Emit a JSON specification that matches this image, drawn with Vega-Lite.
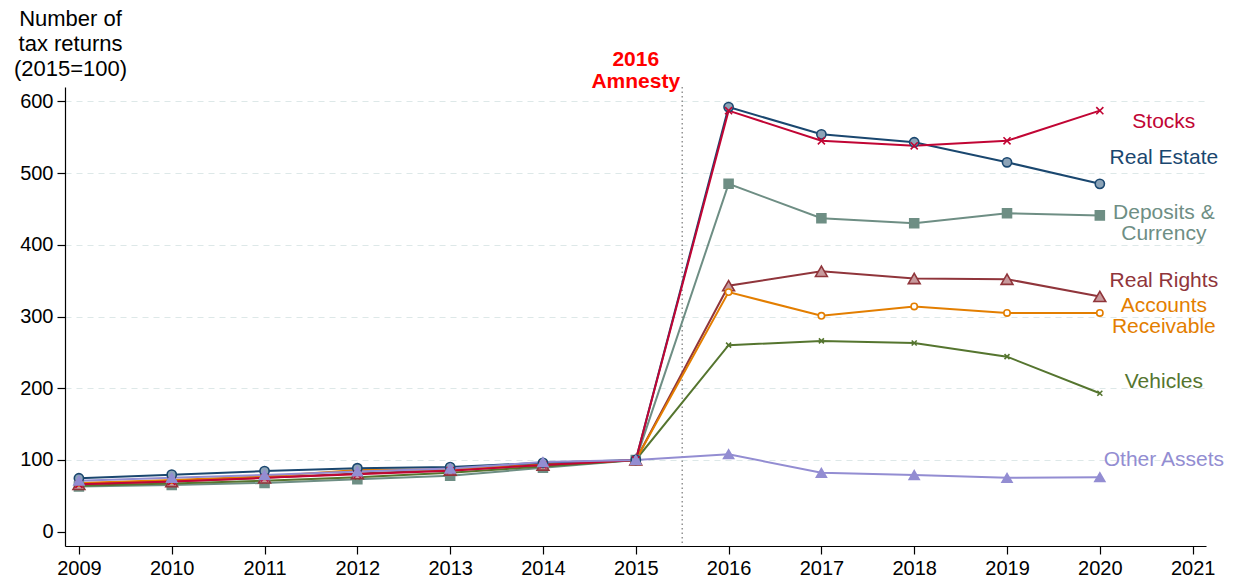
{
  "$schema": "https://vega.github.io/schema/vega-lite/v6.json",
  "autosize": {"type": "none"},
  "padding": {"left": 65, "top": 87, "right": 30, "bottom": 34},
  "width": 1141,
  "height": 459,
  "background": "white",
  "config": {
    "view": {"stroke": null},
    "font": "Liberation Sans",
    "axis": {"labelFont": "Liberation Sans", "titleFont": "Liberation Sans"}
  },
  "datasets": {
    "series": [
      {"series": "Deposits & Currency", "year": 2009, "value": 63},
      {"series": "Deposits & Currency", "year": 2010, "value": 65},
      {"series": "Deposits & Currency", "year": 2011, "value": 68},
      {"series": "Deposits & Currency", "year": 2012, "value": 73},
      {"series": "Deposits & Currency", "year": 2013, "value": 78},
      {"series": "Deposits & Currency", "year": 2014, "value": 89},
      {"series": "Deposits & Currency", "year": 2015, "value": 100},
      {"series": "Deposits & Currency", "year": 2016, "value": 485},
      {"series": "Deposits & Currency", "year": 2017, "value": 437},
      {"series": "Deposits & Currency", "year": 2018, "value": 430},
      {"series": "Deposits & Currency", "year": 2019, "value": 444},
      {"series": "Deposits & Currency", "year": 2020, "value": 441},
      {"series": "Vehicles", "year": 2009, "value": 64},
      {"series": "Vehicles", "year": 2010, "value": 67},
      {"series": "Vehicles", "year": 2011, "value": 71},
      {"series": "Vehicles", "year": 2012, "value": 76},
      {"series": "Vehicles", "year": 2013, "value": 82},
      {"series": "Vehicles", "year": 2014, "value": 91},
      {"series": "Vehicles", "year": 2015, "value": 100},
      {"series": "Vehicles", "year": 2016, "value": 260},
      {"series": "Vehicles", "year": 2017, "value": 266},
      {"series": "Vehicles", "year": 2018, "value": 263},
      {"series": "Vehicles", "year": 2019, "value": 244},
      {"series": "Vehicles", "year": 2020, "value": 193},
      {"series": "Real Rights", "year": 2009, "value": 66},
      {"series": "Real Rights", "year": 2010, "value": 70},
      {"series": "Real Rights", "year": 2011, "value": 75},
      {"series": "Real Rights", "year": 2012, "value": 81},
      {"series": "Real Rights", "year": 2013, "value": 86},
      {"series": "Real Rights", "year": 2014, "value": 93},
      {"series": "Real Rights", "year": 2015, "value": 100},
      {"series": "Real Rights", "year": 2016, "value": 343},
      {"series": "Real Rights", "year": 2017, "value": 363},
      {"series": "Real Rights", "year": 2018, "value": 353},
      {"series": "Real Rights", "year": 2019, "value": 352},
      {"series": "Real Rights", "year": 2020, "value": 328},
      {"series": "Accounts Receivable", "year": 2009, "value": 68},
      {"series": "Accounts Receivable", "year": 2010, "value": 72},
      {"series": "Accounts Receivable", "year": 2011, "value": 77},
      {"series": "Accounts Receivable", "year": 2012, "value": 86},
      {"series": "Accounts Receivable", "year": 2013, "value": 87},
      {"series": "Accounts Receivable", "year": 2014, "value": 94},
      {"series": "Accounts Receivable", "year": 2015, "value": 100},
      {"series": "Accounts Receivable", "year": 2016, "value": 334},
      {"series": "Accounts Receivable", "year": 2017, "value": 301},
      {"series": "Accounts Receivable", "year": 2018, "value": 314},
      {"series": "Accounts Receivable", "year": 2019, "value": 305},
      {"series": "Accounts Receivable", "year": 2020, "value": 305},
      {"series": "Real Estate", "year": 2009, "value": 74.5},
      {"series": "Real Estate", "year": 2010, "value": 79.5},
      {"series": "Real Estate", "year": 2011, "value": 84.5},
      {"series": "Real Estate", "year": 2012, "value": 88.5},
      {"series": "Real Estate", "year": 2013, "value": 90},
      {"series": "Real Estate", "year": 2014, "value": 96},
      {"series": "Real Estate", "year": 2015, "value": 100},
      {"series": "Real Estate", "year": 2016, "value": 592},
      {"series": "Real Estate", "year": 2017, "value": 554},
      {"series": "Real Estate", "year": 2018, "value": 543},
      {"series": "Real Estate", "year": 2019, "value": 515},
      {"series": "Real Estate", "year": 2020, "value": 485},
      {"series": "Stocks", "year": 2009, "value": 66},
      {"series": "Stocks", "year": 2010, "value": 70},
      {"series": "Stocks", "year": 2011, "value": 75},
      {"series": "Stocks", "year": 2012, "value": 80},
      {"series": "Stocks", "year": 2013, "value": 85},
      {"series": "Stocks", "year": 2014, "value": 93},
      {"series": "Stocks", "year": 2015, "value": 100},
      {"series": "Stocks", "year": 2016, "value": 587},
      {"series": "Stocks", "year": 2017, "value": 545},
      {"series": "Stocks", "year": 2018, "value": 538},
      {"series": "Stocks", "year": 2019, "value": 545},
      {"series": "Stocks", "year": 2020, "value": 587},
      {"series": "Other Assets", "year": 2009, "value": 71},
      {"series": "Other Assets", "year": 2010, "value": 75},
      {"series": "Other Assets", "year": 2011, "value": 79},
      {"series": "Other Assets", "year": 2012, "value": 84},
      {"series": "Other Assets", "year": 2013, "value": 88},
      {"series": "Other Assets", "year": 2014, "value": 97},
      {"series": "Other Assets", "year": 2015, "value": 100},
      {"series": "Other Assets", "year": 2016, "value": 108},
      {"series": "Other Assets", "year": 2017, "value": 82},
      {"series": "Other Assets", "year": 2018, "value": 79},
      {"series": "Other Assets", "year": 2019, "value": 75},
      {"series": "Other Assets", "year": 2020, "value": 76}
    ],
    "labels": [
      {"series": "Stocks", "label": "Stocks", "year": 2020.69, "value": 571},
      {"series": "Real Estate", "label": "Real Estate", "year": 2020.69, "value": 521},
      {"series": "Deposits & Currency", "label": "Deposits &\nCurrency", "year": 2020.69, "value": 444},
      {"series": "Real Rights", "label": "Real Rights", "year": 2020.69, "value": 350},
      {"series": "Accounts Receivable", "label": "Accounts\nReceivable", "year": 2020.69, "value": 314},
      {"series": "Vehicles", "label": "Vehicles", "year": 2020.69, "value": 209},
      {"series": "Other Assets", "label": "Other Assets", "year": 2020.69, "value": 100}
    ],
    "event": [
      {"label": "2016\nAmnesty", "year": 2015, "value": 657, "cut": 2015.5}
    ]
  },
  "layer": [
    {
      "data": {"name": "event"},
      "mark": {"type": "rule", "color": "#777777", "strokeWidth": 1.2, "strokeDash": [1.5, 3]},
      "encoding": {
        "x": {"field": "cut", "type": "quantitative", "scale": {"domain": [2008.85, 2021.144], "nice": false, "zero": false}}
      }
    },
    {
      "data": {"name": "series"},
      "mark": {"type": "line", "strokeWidth": 2},
      "encoding": {
        "x": {
          "field": "year", "type": "quantitative",
          "scale": {"domain": [2008.85, 2021.144], "nice": false, "zero": false},
          "axis": {
            "title": null, "values": [2009, 2010, 2011, 2012, 2013, 2014, 2015, 2016, 2017, 2018, 2019, 2020, 2021],
            "format": "d", "grid": false, "domainColor": "#000000", "domainWidth": 1.2,
            "tickColor": "#000000", "tickSize": 8, "tickWidth": 1.2,
            "labelFontSize": 20, "labelColor": "#000000", "labelPadding": 4, "labelFlush": false
          }
        },
        "y": {
          "field": "value", "type": "quantitative",
          "scale": {"domain": [-20, 620], "nice": false, "zero": false},
          "axis": {
            "title": ["Number of", "tax returns", "(2015=100)"],
            "titleAngle": 0, "titleAlign": "center", "titleBaseline": "middle",
            "titleX": 5, "titleY": -69, "titleFontSize": 22, "titleFontWeight": "normal",
            "titleLineHeight": 25, "titleColor": "#000000",
            "values": [0, 100, 200, 300, 400, 500, 600],
            "grid": true,
            "gridColor": {"condition": {"test": "datum.value === 0", "value": "transparent"}, "value": "#dde8e8"},
            "gridDash": [6, 5], "gridWidth": 1.2,
            "domainColor": "#000000", "domainWidth": 1.2,
            "tickColor": "#000000", "tickSize": 8, "tickWidth": 1.2,
            "labelFontSize": 20, "labelColor": "#000000", "labelPadding": 4
          }
        },
        "stroke": {
          "field": "series", "type": "nominal", "legend": null,
          "scale": {
            "domain": ["Stocks", "Real Estate", "Deposits & Currency", "Real Rights", "Accounts Receivable", "Vehicles", "Other Assets"],
            "range": ["#c10534", "#1a476f", "#6e8e84", "#90353b", "#e37e00", "#55752f", "#938dd2"]
          }
        }
      }
    },
    {
      "data": {"name": "series"},
      "mark": {"type": "point", "filled": false, "strokeWidth": 1.6, "opacity": 1},
      "encoding": {
        "x": {"field": "year", "type": "quantitative"},
        "y": {"field": "value", "type": "quantitative"},
        "stroke": {"field": "series", "type": "nominal", "legend": null},
        "fill": {
          "field": "series", "type": "nominal", "legend": null,
          "scale": {
            "domain": ["Stocks", "Real Estate", "Deposits & Currency", "Real Rights", "Accounts Receivable", "Vehicles", "Other Assets"],
            "range": ["#c10534", "#8ca3b7", "#6e8e84", "#c89a9d", "#ffffff", "#55752f", "#938dd2"]
          }
        },
        "shape": {
          "field": "series", "type": "nominal", "legend": null,
          "scale": {
            "domain": ["Stocks", "Real Estate", "Deposits & Currency", "Real Rights", "Accounts Receivable", "Vehicles", "Other Assets"],
            "range": ["M-1,-1L1,1M-1,1L1,-1", "circle", "square", "triangle-up", "circle", "M-1,-1L1,1M-1,1L1,-1", "triangle-up"]
          }
        },
        "size": {
          "field": "series", "type": "nominal", "legend": null,
          "scale": {
            "type": "ordinal",
            "domain": ["Stocks", "Real Estate", "Deposits & Currency", "Real Rights", "Accounts Receivable", "Vehicles", "Other Assets"],
            "range": [50, 85, 80, 140, 40, 25, 100]
          }
        }
      }
    },
    {
      "data": {"name": "labels"},
      "mark": {"type": "text", "fontSize": 21, "align": "center", "baseline": "middle", "lineBreak": "\n", "lineHeight": 21},
      "encoding": {
        "x": {"field": "year", "type": "quantitative"},
        "y": {"field": "value", "type": "quantitative"},
        "text": {"field": "label"},
        "color": {
          "field": "series", "type": "nominal", "legend": null,
          "scale": {
            "domain": ["Stocks", "Real Estate", "Deposits & Currency", "Real Rights", "Accounts Receivable", "Vehicles", "Other Assets"],
            "range": ["#c10534", "#1a476f", "#6e8e84", "#90353b", "#e37e00", "#55752f", "#938dd2"]
          }
        }
      }
    },
    {
      "data": {"name": "event"},
      "mark": {"type": "text", "fontSize": 21, "fontWeight": "bold", "color": "#ff0000", "align": "center", "baseline": "middle", "lineBreak": "\n", "lineHeight": 22},
      "encoding": {
        "x": {"field": "year", "type": "quantitative"},
        "y": {"field": "value", "type": "quantitative"},
        "text": {"field": "label"}
      }
    }
  ]
}
